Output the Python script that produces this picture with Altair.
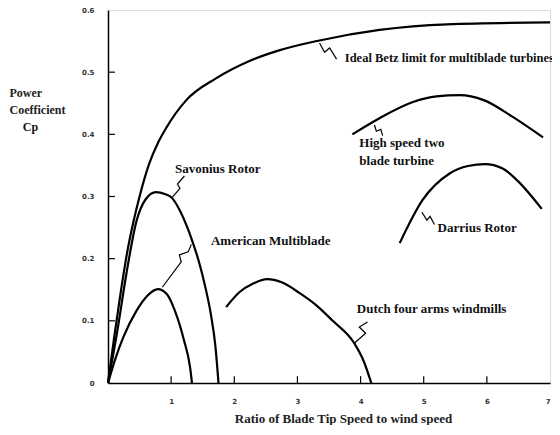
import altair as alt
import pandas as pd

# ---- curve data ----
betz_x = [0, 0.1, 0.2, 0.3, 0.4, 0.5, 0.65, 0.8, 0.92, 1.24, 1.71, 2.24, 2.71, 3.35, 4.3, 5.37, 7.0]
betz_y = [0, 0.075, 0.145, 0.208, 0.258, 0.3, 0.352, 0.388, 0.41, 0.455, 0.49, 0.518, 0.535, 0.551, 0.568, 0.577, 0.58]

sav_x = [0, 0.15, 0.29, 0.45, 0.6, 0.76, 0.9, 1.02, 1.14, 1.25, 1.33, 1.44, 1.54, 1.63, 1.7, 1.75]
sav_y = [0, 0.085, 0.175, 0.26, 0.296, 0.307, 0.304, 0.297, 0.277, 0.252, 0.23, 0.195, 0.155, 0.11, 0.06, 0]

amer_x = [0, 0.12, 0.24, 0.45, 0.62, 0.79, 0.93, 1.06, 1.2, 1.3, 1.33]
amer_y = [0, 0.04, 0.073, 0.116, 0.14, 0.151, 0.143, 0.116, 0.07, 0.025, 0]

dutch_x = [1.87, 2.08, 2.3, 2.52, 2.75, 3.03, 3.3, 3.56, 3.9, 4.05, 4.17]
dutch_y = [0.122, 0.146, 0.16, 0.167, 0.162, 0.145, 0.125, 0.10, 0.064, 0.035, 0]

high_x = [3.87, 4.3, 4.83, 5.2, 5.57, 5.95, 6.41, 6.89]
high_y = [0.40, 0.426, 0.452, 0.461, 0.463, 0.455, 0.428, 0.395]

darr_x = [4.62, 4.98, 5.41, 5.7, 5.97, 6.25, 6.48, 6.87]
darr_y = [0.225, 0.294, 0.337, 0.349, 0.352, 0.345, 0.326, 0.28]

# ---- annotation leaders ----
lead_betz_x = [3.35, 3.43, 3.51, 3.62]
lead_betz_y = [0.547, 0.532, 0.539, 0.521]
lead_high_x = [4.22, 4.25, 4.32, 4.35]
lead_high_y = [0.415, 0.405, 0.408, 0.398]
lead_darr_x = [4.97, 5.05, 5.10, 5.17]
lead_darr_y = [0.275, 0.262, 0.268, 0.255]
lead_sav_x = [1.02, 1.14, 1.10, 1.21]
lead_sav_y = [0.299, 0.313, 0.320, 0.333]
lead_amer_x = [0.86, 1.16, 1.13, 1.27, 1.32]
lead_amer_y = [0.154, 0.195, 0.206, 0.211, 0.223]
lead_dutch_x = [3.90, 4.08, 3.98, 4.11]
lead_dutch_y = [0.064, 0.080, 0.090, 0.098]

# ---- labels ----
label_text = ["Ideal Betz limit for multiblade turbines", "High speed two", "blade turbine",
              "Darrius Rotor", "Savonius Rotor", "American Multiblade", "Dutch four arms windmills", "Cp"]
label_x = [3.75, 3.98, 3.98, 5.22, 1.06, 1.63, 3.94, -1.35]
label_y = [0.522, 0.386, 0.357, 0.249, 0.344, 0.228, 0.119, 0.411]
label_size = [12.5, 13, 13, 13, 13, 13, 13, 12]

x_ticks = [1, 2, 3, 4, 5, 6, 7]
y_ticks = [0, 0.1, 0.2, 0.3, 0.4, 0.5, 0.6]
x_inner_ticks = [1, 2, 3, 4, 5, 6]
y_inner_ticks = [0.1, 0.2, 0.3, 0.4, 0.5]


def build(groups):
    rows = []
    for name, xs, ys in groups:
        for i, (a, b) in enumerate(zip(xs, ys)):
            rows.append({"x": a, "y": b, "curve": name, "o": i})
    return pd.DataFrame(rows)


curves = build([
    ("betz", betz_x, betz_y), ("sav", sav_x, sav_y), ("amer", amer_x, amer_y),
    ("dutch", dutch_x, dutch_y), ("high", high_x, high_y), ("darr", darr_x, darr_y),
])
leads = build([
    ("betz", lead_betz_x, lead_betz_y), ("high", lead_high_x, lead_high_y),
    ("darr", lead_darr_x, lead_darr_y), ("sav", lead_sav_x, lead_sav_y),
    ("amer", lead_amer_x, lead_amer_y), ("dutch", lead_dutch_x, lead_dutch_y),
])
labels = pd.DataFrame({"x": label_x, "y": label_y, "t": label_text, "s": label_size})
xt = pd.DataFrame({"x": x_inner_ticks, "y": [0] * len(x_inner_ticks), "y2": [0.011] * len(x_inner_ticks)})
yt = pd.DataFrame({"y": y_inner_ticks, "x": [0] * len(y_inner_ticks), "x2": [0.11] * len(y_inner_ticks)})

xscale = alt.Scale(domain=[0, 7], nice=False, zero=False)
yscale = alt.Scale(domain=[0, 0.6], nice=False, zero=False)

xaxis = alt.Axis(values=x_ticks, grid=False, tickSize=0, labelPadding=14, labelFontSize=7,
                 labelColor="#333", labelFont="DejaVu Sans", labelFontWeight="bold",
                 labelExpr="format(datum.value, 'd')",
                 domainColor="black", domainWidth=1.5,
                 title="Ratio of Blade Tip Speed to wind speed", titleFont="Liberation Serif",
                 titleFontSize=13, titleFontWeight="bold", titleColor="#222",
                 titleX=235, titleY=35, titleBaseline="middle", titleAnchor="middle", titleAlign="center")
yaxis = alt.Axis(values=y_ticks, grid=False, tickSize=0, labelPadding=14, labelFontSize=7,
                 labelColor="#333", labelFont="DejaVu Sans", labelFontWeight="bold",
                 labelExpr="datum.value == 0 ? '0' : format(datum.value, '.1f')",
                 domainColor="black", domainWidth=1.5,
                 title=["Power", "Coefficient"], titleFont="Liberation Serif",
                 titleFontSize=12, titleFontWeight="bold", titleColor="#222", titleAngle=0,
                 titleAlign="left", titleBaseline="top", titleX=-99, titleY=77, titleLineHeight=17)

base_curves = alt.Chart(curves).mark_line(interpolate="monotone", color="black", strokeWidth=2.2).encode(
    x=alt.X("x:Q", scale=xscale, axis=xaxis),
    y=alt.Y("y:Q", scale=yscale, axis=yaxis),
    detail="curve:N",
    order="o:Q",
)
lead_layer = alt.Chart(leads).mark_line(color="black", strokeWidth=1.2).encode(
    x="x:Q", y="y:Q", detail="curve:N", order="o:Q")
text_layer = alt.Chart(labels).mark_text(align="left", baseline="middle", font="Liberation Serif",
                                         fontWeight="bold", color="#111").encode(
    x="x:Q", y="y:Q", text="t:N", size=alt.Size("s:Q", scale=None, legend=None))
xtick_layer = alt.Chart(xt).mark_rule(color="black", strokeWidth=1.2).encode(x="x:Q", y="y:Q", y2="y2")
ytick_layer = alt.Chart(yt).mark_rule(color="black", strokeWidth=1.2).encode(y="y:Q", x="x:Q", x2="x2")

chart = alt.layer(base_curves, lead_layer, xtick_layer, ytick_layer, text_layer).properties(
    width=442, height=373,
    padding={"left": 100, "top": 2, "right": 2, "bottom": 42},
    autosize=alt.AutoSizeParams(type="none"),
).configure_view(stroke="black", strokeWidth=1.5).configure(background="white")

chart.save("out.html", embed_options={"renderer": "svg", "actions": False})
